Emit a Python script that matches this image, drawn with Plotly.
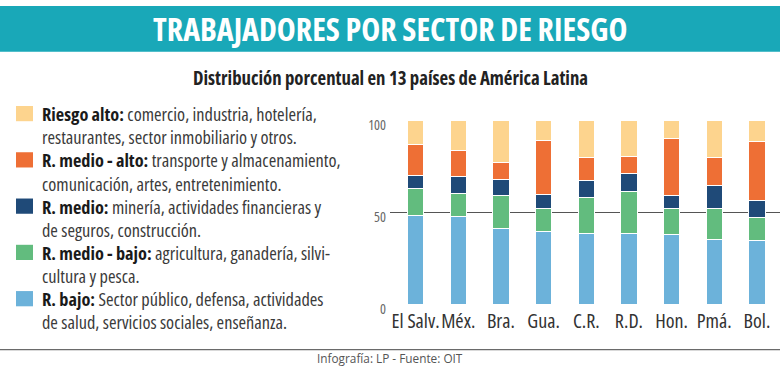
import plotly.graph_objects as go

# ---- data ----
countries = ["El Salv.", "Méx.", "Bra.", "Gua.", "C.R.", "R.D.", "Hon.", "Pmá.", "Bol."]
r_bajo       = [48.6, 48.1, 41.6, 39.8, 38.6, 38.6, 38.1, 35.5, 35.0]
r_medio_bajo = [14.7, 12.6, 17.7, 12.6, 20.0, 23.1, 14.3, 16.9, 12.6]
r_medio      = [7.2, 9.3, 9.0, 7.6, 9.2, 9.9, 7.3, 12.6, 9.1]
r_medio_alto = [16.9, 13.8, 9.3, 29.1, 12.4, 9.3, 30.6, 15.2, 31.9]
r_alto       = [12.6, 16.2, 22.4, 10.9, 19.8, 19.1, 9.7, 19.8, 11.4]
y_ticks = [0, 50, 100]

series_names = ["Riesgo alto:", "R. medio - alto:", "R. medio:", "R. medio - bajo:", "R. bajo:"]
series_desc = [
    ["comercio, industria, hotelería,", "restaurantes, sector inmobiliario y otros."],
    ["transporte y almacenamiento,", "comunicación, artes, entretenimiento."],
    ["minería, actividades financieras y", "de seguros, construcción."],
    ["agricultura, ganadería, silvi-", "cultura y pesca."],
    ["Sector público, defensa, actividades", "de salud, servicios sociales, enseñanza."],
]
colors = ["#FDD48E", "#EE6F35", "#1F4A78", "#62BC7E", "#6CB2DA"]

title = "TRABAJADORES POR SECTOR DE RIESGO"
subtitle = "Distribución porcentual en 13 países de América Latina"
footer = "Infografía: LP - Fuente: OIT"

FONT = "Open Sans, Roboto Condensed, sans-serif"
W, H = 780, 376


def cond(t):
    return f"<span style='font-stretch:condensed'>{t}</span>"


def px_x(p):
    return p / W


def px_y(p):
    return 1 - p / H


fig = go.Figure()
stack = [r_bajo, r_medio_bajo, r_medio, r_medio_alto, r_alto]
stack_colors = colors[::-1]
stack_names = series_names[::-1]
for vals, col, nm in zip(stack, stack_colors, stack_names):
    fig.add_trace(go.Bar(
        x=countries, y=vals, name=nm, marker_color=col,
        marker_line_color="white", marker_line_width=1, width=0.38,
        showlegend=False, hoverinfo="x+y+name",
    ))

shapes = []
annotations = []
# title bar
shapes.append(dict(type="rect", xref="paper", yref="paper", x0=0, x1=1, y0=px_y(48), y1=1,
                   fillcolor="#19A8B8", line_width=0, layer="below"))
annotations.append(dict(text=cond(f"<b>{title}</b>"), xref="paper", yref="paper", x=0.5, y=px_y(24),
                        xanchor="center", yanchor="middle", showarrow=False,
                        font=dict(family=FONT, size=32, color="white")))
annotations.append(dict(text=cond(f"<b>{subtitle}</b>"), xref="paper", yref="paper", x=0.5, y=px_y(75.5),
                        xanchor="center", yanchor="middle", showarrow=False,
                        font=dict(family=FONT, size=18.8, color="#222222")))
# legend
line0 = 113
step = 24.3
for i, (nm, desc, col) in enumerate(zip(series_names, series_desc, colors)):
    yc = line0 + step * 2 * i
    shapes.append(dict(type="rect", xref="paper", yref="paper",
                       x0=px_x(16), x1=px_x(33), y0=px_y(yc + 8), y1=px_y(yc - 8),
                       fillcolor=col, line_width=0))
    annotations.append(dict(
        text=cond(f"<b><span style='color:#1a1a1a'>{nm}</span></b> {desc[0]}"),
        xref="paper", yref="paper", x=px_x(40), y=px_y(yc),
        xanchor="left", yanchor="middle", align="left", showarrow=False,
        font=dict(family=FONT, size=18.3, color="#3a3a3a")))
    annotations.append(dict(
        text=cond(desc[1]), xref="paper", yref="paper", x=px_x(40), y=px_y(yc + step),
        xanchor="left", yanchor="middle", align="left", showarrow=False,
        font=dict(family=FONT, size=18.3, color="#3a3a3a")))
# footer
shapes.append(dict(type="line", xref="paper", yref="paper", x0=0, x1=1, y0=px_y(361), y1=px_y(361),
                   line=dict(color="#444444", width=1)))
annotations.append(dict(text=footer, xref="paper", yref="paper", x=0.5, y=px_y(369.5),
                        xanchor="center", yanchor="middle", showarrow=False,
                        font=dict(family="Open Sans, sans-serif", size=11.8, color="#555555")))

fig.update_layout(
    width=W, height=H, margin=dict(l=0, r=0, t=0, b=0),
    paper_bgcolor="white", plot_bgcolor="white",
    barmode="stack", bargap=0.6,
    shapes=shapes, annotations=annotations,
    xaxis=dict(domain=[px_x(390), 1], range=[-0.6, 8.54], showgrid=False, ticks="",
               tickmode="array", tickvals=countries, ticktext=[cond(c) for c in countries],
               tickangle=0,
               tickfont=dict(family=FONT, size=20, color="#333333"), ticklabelstandoff=1,
               showline=False, zeroline=False, fixedrange=True),
    yaxis=dict(domain=[(H - 314.6) / H, (H - 120.1) / H], range=[-0.3, 100.3],
               tickvals=y_ticks, ticktext=[cond(str(v)) for v in y_ticks],
               showgrid=True, gridcolor="#555555", gridwidth=1, zeroline=False,
               ticks="", tickfont=dict(family=FONT, size=14, color="#666666"),
               ticklabelshift=4, ticklabelstandoff=3, showline=False, fixedrange=True),
)

fig.write_html("out.html", config={"displayModeBar": False},
               post_script="document.body.style.margin='0';document.body.style.overflow='hidden';")
